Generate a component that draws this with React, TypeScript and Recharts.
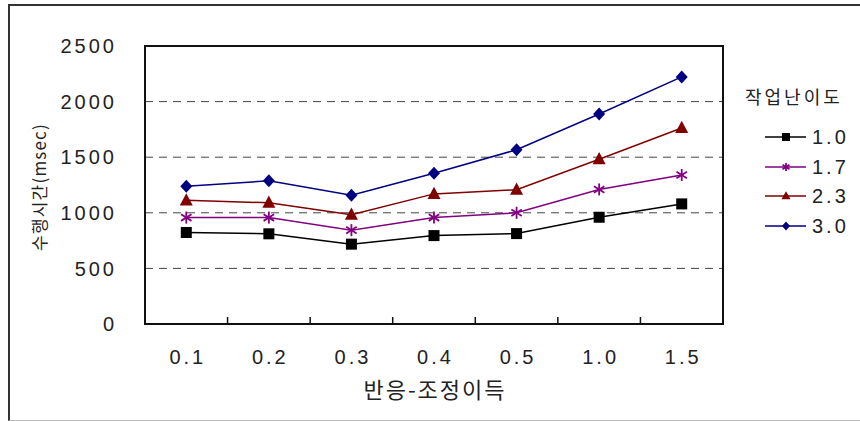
import React from "react";
import { LineChart, Line, XAxis, YAxis, CartesianGrid, ReferenceArea, Label } from "recharts";

// 반응-조정이득 (x categories)
const categories = ["0.1", "0.2", "0.3", "0.4", "0.5", "1.0", "1.5"];

// 수행시간(msec) per 작업난이도
const level10 = [823, 811, 718, 795, 813, 960, 1080];
const level17 = [957, 957, 844, 957, 1000, 1210, 1340];
const level23 = [1112, 1090, 983, 1170, 1207, 1482, 1762];
const level30 = [1238, 1288, 1157, 1355, 1567, 1888, 2222];

const yTicks = [0, 500, 1000, 1500, 2000, 2500];

const seriesNames = ["1.0", "1.7", "2.3", "3.0"];
const seriesKeys = ["s10", "s17", "s23", "s30"];
const seriesColors = ["#000000", "#800080", "#800000", "#000080"];
const seriesShapes = ["square", "star", "triangle", "diamond"];

const data = categories.map((name, i) => ({
  name,
  s10: level10[i],
  s17: level17[i],
  s23: level23[i],
  s30: level30[i],
}));

const NUM_FONT = '"Liberation Sans", Arial, sans-serif';
const KO_FONT = '"Noto Sans CJK KR", "Noto Sans", sans-serif';
const TEXT = "#222";

function Marker({ kind, cx, cy, color, size }: any) {
  const h = size / 2;
  if (kind === "square") {
    return <rect x={cx - h} y={cy - h} width={size} height={size} fill={color} />;
  }
  if (kind === "triangle") {
    const pts = `${cx},${cy - size * 0.6} ${cx + h + 0.5},${cy + size * 0.42} ${cx - h - 0.5},${cy + size * 0.42}`;
    return <polygon points={pts} fill={color} />;
  }
  if (kind === "diamond") {
    const pts = `${cx},${cy - h - 0.5} ${cx + h},${cy} ${cx},${cy + h + 0.5} ${cx - h},${cy}`;
    return <polygon points={pts} fill={color} />;
  }
  // asterisk
  const d = h * 0.87;
  return (
    <g stroke={color} strokeWidth={1.8}>
      <line x1={cx} y1={cy - h} x2={cx} y2={cy + h} />
      <line x1={cx - d} y1={cy - h * 0.55} x2={cx + d} y2={cy + h * 0.55} />
      <line x1={cx - d} y1={cy + h * 0.55} x2={cx + d} y2={cy - h * 0.55} />
    </g>
  );
}

function XTick(props: any) {
  const { x, y, payload, index, width, visibleTicksCount } = props;
  const half = width / visibleTicksCount / 2;
  const axisY = y - 26;
  return (
    <g>
      {index > 0 && (
        <line x1={x - half} y1={axisY} x2={x - half} y2={axisY - 7} stroke="#111" strokeWidth={1.5} />
      )}
      <text
        x={x + 1.5}
        y={y}
        dy="0.71em"
        textAnchor="middle"
        fill={TEXT}
        fontSize={20}
        fontFamily={NUM_FONT}
        letterSpacing={3}
      >
        {payload.value}
      </text>
    </g>
  );
}

export default function App() {
  return (
    <div style={{ position: "absolute", left: 0, top: 0, width: 860, height: 421, background: "#fff" }}>
      <LineChart
        width={860}
        height={421}
        data={data}
        margin={{ top: 46, right: 137, bottom: 0, left: 0 }}
      >
        <CartesianGrid horizontal vertical={false} stroke="#444" strokeDasharray="8 6" />
        <XAxis
          dataKey="name"
          scale="band"
          height={97}
          axisLine={{ stroke: "#111", strokeWidth: 2 }}
          tickLine={false}
          tickSize={0}
          tickMargin={26}
          interval={0}
          tick={<XTick />}
        >
          <Label
            content={({ viewBox }: any) => (
              <text
                x={viewBox.x + viewBox.width / 2 + 1}
                y={388}
                textAnchor="middle"
                dominantBaseline="central"
                fill={TEXT}
                fontSize={22}
                fontFamily={KO_FONT}
                letterSpacing={2}
              >
                반응-조정이득
              </text>
            )}
          />
        </XAxis>
        <YAxis
          width={145}
          domain={[0, 2500]}
          ticks={yTicks}
          axisLine={{ stroke: "#111", strokeWidth: 2 }}
          tickLine={false}
          tickSize={0}
          tickMargin={28}
          tick={{ fill: TEXT, fontSize: 20, fontFamily: NUM_FONT, letterSpacing: 3 }}
        >
          <Label
            content={({ viewBox }: any) => {
              const cx = 38;
              const cy = viewBox.y + viewBox.height / 2 + 2;
              return (
                <text
                  x={cx}
                  y={cy}
                  transform={`rotate(-90 ${cx} ${cy})`}
                  textAnchor="middle"
                  dominantBaseline="central"
                  fill={TEXT}
                  fontSize={17}
                  fontFamily={KO_FONT}
                  letterSpacing={1.2}
                >
                  수행시간(msec)
                </text>
              );
            }}
          />
        </YAxis>
        <ReferenceArea y1={0} y2={2500} fill="none" stroke="#111" strokeWidth={2} ifOverflow="visible" />
        {seriesKeys.map((key, i) => (
          <Line
            key={key}
            dataKey={key}
            name={seriesNames[i]}
            stroke={seriesColors[i]}
            strokeWidth={1.5}
            isAnimationActive={false}
            activeDot={false}
            dot={(p: any) => (
              <Marker
                key={`${key}-${p.index}`}
                kind={seriesShapes[i]}
                cx={p.cx}
                cy={p.cy}
                color={seriesColors[i]}
                size={i === 0 ? 11 : 12}
              />
            )}
          />
        ))}
      </LineChart>

      {/* legend */}
      <div
        style={{
          position: "absolute",
          left: 745,
          top: 84,
          fontFamily: KO_FONT,
          fontSize: 18,
          letterSpacing: 3,
          color: TEXT,
          lineHeight: "24px",
          whiteSpace: "nowrap",
        }}
      >
        작업난이도
      </div>
      {seriesNames.map((name, i) => (
        <div
          key={name}
          style={{
            position: "absolute",
            left: 764,
            top: 126 + i * 29.7,
            height: 22,
            display: "flex",
            alignItems: "center",
          }}
        >
          <svg width={44} height={22} style={{ display: "block" }}>
            <line x1={1} y1={11} x2={42} y2={11} stroke={seriesColors[i]} strokeWidth={1.5} />
            <Marker kind={seriesShapes[i]} cx={22} cy={11} color={seriesColors[i]} size={8} />
          </svg>
          <span
            style={{
              marginLeft: 4,
              fontFamily: NUM_FONT,
              fontSize: 20,
              letterSpacing: 3,
              color: TEXT,
              lineHeight: "22px",
            }}
          >
            {name}
          </span>
        </div>
      ))}

      {/* outer frame */}
      <div
        style={{
          position: "absolute",
          left: 8,
          top: 4,
          width: 860,
          height: 414,
          borderTop: "2px solid #333",
          borderLeft: "2px solid #333",
          borderBottom: "1px solid #bbb",
          pointerEvents: "none",
        }}
      />
    </div>
  );
}
